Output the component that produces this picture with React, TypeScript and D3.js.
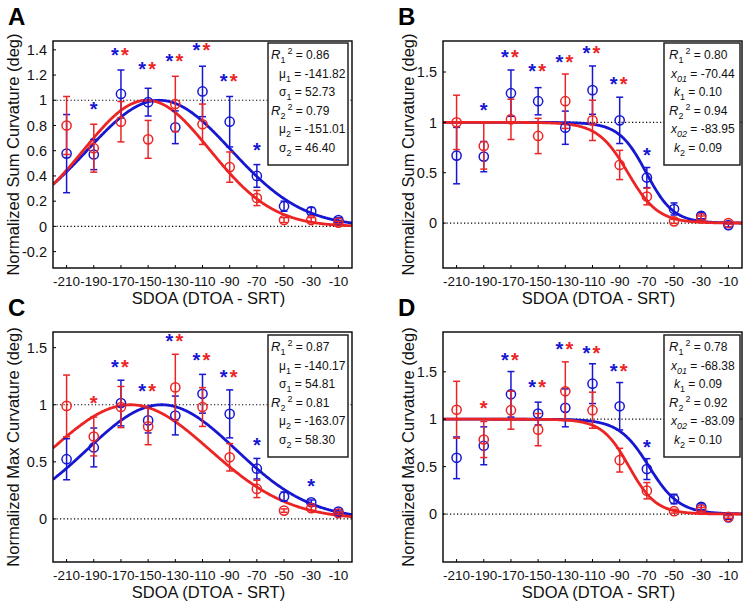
import React from "react";
import * as d3 from "d3";

// ---------- data ----------
const sdoa = [-210, -190, -170, -150, -130, -110, -90, -70, -50, -30, -10];

// Panel A: normalized sum curvature (Gaussian fits)
const sumBlueA = [0.577, 0.57, 1.05, 0.985, 0.786, 1.07, 0.83, 0.40, 0.16, 0.12, 0.05];
const sumBlueErrA = [0.31, 0.12, 0.19, 0.11, 0.13, 0.2, 0.2, 0.09, 0.04, 0.03, 0.02];
const sumRedA = [0.80, 0.62, 0.83, 0.69, 0.97, 0.81, 0.47, 0.225, 0.05, 0.05, 0.03];
const sumRedErrA = [0.23, 0.19, 0.16, 0.15, 0.22, 0.16, 0.12, 0.06, 0.02, 0.02, 0.01];

// Panel B: normalized sum curvature (sigmoid fits)
const sumBlueB = [0.67, 0.66, 1.29, 1.21, 0.947, 1.32, 1.02, 0.452, 0.14, 0.073, -0.02];
const sumBlueErrB = [0.28, 0.15, 0.23, 0.135, 0.165, 0.24, 0.23, 0.1, 0.06, 0.03, 0.02];
const sumRedB = [1.0, 0.766, 1.03, 0.865, 1.21, 1.02, 0.577, 0.264, 0.017, 0.05, 0.0];
const sumRedErrB = [0.27, 0.23, 0.2, 0.175, 0.27, 0.2, 0.145, 0.083, 0.02, 0.02, 0.01];

// Panel C: normalized max curvature (Gaussian fits)
const maxBlueC = [0.523, 0.626, 1.015, 0.863, 0.906, 1.096, 0.92, 0.44, 0.196, 0.146, 0.064];
const maxBlueErrC = [0.18, 0.17, 0.2, 0.11, 0.17, 0.17, 0.21, 0.09, 0.04, 0.02, 0.015];
const maxRedC = [0.99, 0.722, 0.98, 0.81, 1.152, 0.98, 0.54, 0.263, 0.073, 0.094, 0.05];
const maxRedErrC = [0.27, 0.17, 0.18, 0.16, 0.29, 0.17, 0.12, 0.076, 0.015, 0.02, 0.01];

// Panel D: normalized max curvature (sigmoid fits)
const maxBlueD = [0.593, 0.72, 1.263, 1.06, 1.12, 1.375, 1.137, 0.474, 0.158, 0.077, -0.035];
const maxBlueErrD = [0.22, 0.2, 0.24, 0.12, 0.2, 0.21, 0.25, 0.11, 0.05, 0.03, 0.02];
const maxRedD = [1.10, 0.786, 1.095, 0.89, 1.295, 1.095, 0.568, 0.246, 0.03, 0.05, -0.03];
const maxRedErrD = [0.3, 0.19, 0.2, 0.17, 0.31, 0.19, 0.125, 0.086, 0.02, 0.02, 0.015];

// Significance stars: x, y, which colours
const starXA = [-190, -170, -150, -130, -110, -90, -70];
const starYA = [0.965, 1.39, 1.28, 1.34, 1.43, 1.185, 0.64];
const starTA = ["b", "br", "br", "br", "br", "br", "b"];
const starXB = [-190, -170, -150, -130, -110, -90, -70];
const starYB = [1.16, 1.69, 1.55, 1.64, 1.73, 1.42, 0.72];
const starTB = ["b", "br", "br", "br", "br", "br", "b"];
const starXC = [-190, -170, -150, -130, -110, -90, -70, -30];
const starYC = [1.05, 1.365, 1.155, 1.59, 1.43, 1.28, 0.68, 0.327];
const starTC = ["r", "br", "br", "br", "br", "br", "b", "b"];
const starXD = [-190, -170, -150, -130, -110, -90, -70];
const starYD = [1.165, 1.67, 1.38, 1.78, 1.744, 1.55, 0.754];
const starTD = ["r", "br", "br", "br", "br", "br", "b"];

// Fit parameters
const gaussA = { blue: [-141.82, 52.73], red: [-151.01, 46.4] };
const gaussC = { blue: [-140.17, 54.81], red: [-163.07, 58.3] };
const sigB = { blue: [-70.44, 0.1], red: [-83.95, 0.09] };
const sigD = { blue: [-68.38, 0.09], red: [-83.09, 0.1] };

// Legend text
const legendA = [
  ["R", "1", "2", "0.86"], ["μ", "1", "", "-141.82"], ["σ", "1", "", "52.73"],
  ["R", "2", "2", "0.79"], ["μ", "2", "", "-151.01"], ["σ", "2", "", "46.40"],
];
const legendB = [
  ["R", "1", "2", "0.80"], ["x", "01", "", "-70.44"], ["k", "1", "", "0.10"],
  ["R", "2", "2", "0.94"], ["x", "02", "", "-83.95"], ["k", "2", "", "0.09"],
];
const legendC = [
  ["R", "1", "2", "0.87"], ["μ", "1", "", "-140.17"], ["σ", "1", "", "54.81"],
  ["R", "2", "2", "0.81"], ["μ", "2", "", "-163.07"], ["σ", "2", "", "58.30"],
];
const legendD = [
  ["R", "1", "2", "0.78"], ["x", "01", "", "-68.38"], ["k", "1", "", "0.09"],
  ["R", "2", "2", "0.92"], ["x", "02", "", "-83.09"], ["k", "2", "", "0.10"],
];

const xTicks = sdoa;
const yTicksA = [-0.2, 0, 0.2, 0.4, 0.6, 0.8, 1, 1.2, 1.4];
const yTicksB = [0, 0.5, 1, 1.5];

// ---------- styling ----------
const BLUE = "#1717d2";
const RED = "#ec2424";
const FONT = "'Liberation Sans', Arial, Helvetica, sans-serif";

type PanelCfg = {
  letter: string;
  left: number; right: number; top: number; bottom: number;
  yDomain: [number, number];
  yTicks: number[];
  ylabel: string;
  ylabelX: number;
  blue: number[]; blueErr: number[]; red: number[]; redErr: number[];
  starX: number[]; starY: number[]; starT: string[];
  fit: { blue: number[]; red: number[] };
  kind: "gauss" | "sig";
  legend: string[][];
  box: [number, number, number, number];
};

const panels: PanelCfg[] = [
  {
    letter: "A", left: 53, right: 352, top: 41, bottom: 268,
    yDomain: [-0.33, 1.47], yTicks: yTicksA, ylabel: "Normalized Sum Curvature (deg)", ylabelX: 19,
    blue: sumBlueA, blueErr: sumBlueErrA, red: sumRedA, redErr: sumRedErrA,
    starX: starXA, starY: starYA, starT: starTA, fit: gaussA, kind: "gauss", legend: legendA,
    box: [268, 43, 348, 165],
  },
  {
    letter: "B", left: 443, right: 742, top: 41, bottom: 268,
    yDomain: [-0.446, 1.808], yTicks: yTicksB, ylabel: "Normalized Sum Curvature (deg)", ylabelX: 414,
    blue: sumBlueB, blueErr: sumBlueErrB, red: sumRedB, redErr: sumRedErrB,
    starX: starXB, starY: starYB, starT: starTB, fit: sigB, kind: "sig", legend: legendB,
    box: [664, 43, 740, 165],
  },
  {
    letter: "C", left: 53, right: 352, top: 332, bottom: 562,
    yDomain: [-0.377, 1.637], yTicks: yTicksB, ylabel: "Normalized Max Curvature (deg)", ylabelX: 19,
    blue: maxBlueC, blueErr: maxBlueErrC, red: maxRedC, redErr: maxRedErrC,
    starX: starXC, starY: starYC, starT: starTC, fit: gaussC, kind: "gauss", legend: legendC,
    box: [268, 335, 348, 457],
  },
  {
    letter: "D", left: 443, right: 742, top: 332, bottom: 562,
    yDomain: [-0.506, 1.92], yTicks: yTicksB, ylabel: "Normalized Max Curvature (deg)", ylabelX: 414,
    blue: maxBlueD, blueErr: maxBlueErrD, red: maxRedD, redErr: maxRedErrD,
    starX: starXD, starY: starYD, starT: starTD, fit: sigD, kind: "sig", legend: legendD,
    box: [664, 335, 740, 457],
  },
];

const fmtTick = (v: number) => String(+v.toFixed(1));

function Panel({ c }: { c: PanelCfg }) {
  const x = d3.scaleLinear().domain([-220, 0]).range([c.left, c.right]);
  const y = d3.scaleLinear().domain(c.yDomain).range([c.bottom, c.top]);
  const xs = d3.range(-220, 0.5, 0.5);
  const f = (p: number[]) =>
    c.kind === "gauss"
      ? (t: number) => Math.exp(-((t - p[0]) ** 2) / (2 * p[1] * p[1]))
      : (t: number) => 1 / (1 + Math.exp(p[1] * (t - p[0])));
  const line = d3.line<number>().x((t) => x(t));
  const curve = (p: number[]) => {
    const g = f(p);
    return line.y((t) => y(g(t)))(xs) || "";
  };
  const clipId = "clip" + c.letter;
  const cap = 3.5;
  const series = (vals: number[], errs: number[], color: string) => (
    <g stroke={color} fill="none" strokeWidth={1.5}>
      {vals.map((v, i) => {
        const cx = x(sdoa[i]);
        const y1 = y(v + errs[i]);
        const y2 = y(v - errs[i]);
        return (
          <g key={i}>
            <line x1={cx} x2={cx} y1={y1} y2={y2} />
            <line x1={cx - cap} x2={cx + cap} y1={y1} y2={y1} />
            <line x1={cx - cap} x2={cx + cap} y1={y2} y2={y2} />
            <circle cx={cx} cy={y(v)} r={4.6} />
          </g>
        );
      })}
    </g>
  );
  const [bx0, by0, bx1, by1] = c.box;
  const isGauss = c.kind === "gauss";
  return (
    <g fontFamily={FONT}>
      <text x={c.left - 45} y={c.top - 16} fontSize={24} fontWeight="bold" fill="#000">
        {c.letter}
      </text>
      <defs>
        <clipPath id={clipId}>
          <rect x={c.left} y={c.top} width={c.right - c.left} height={c.bottom - c.top} />
        </clipPath>
      </defs>
      {/* reference lines */}
      {[0, 1].map((v) => (
        <line key={v} x1={c.left} x2={c.right} y1={y(v)} y2={y(v)} stroke="#000"
          strokeWidth={1.2} strokeDasharray="1.2 2.3" />
      ))}
      <g clipPath={`url(#${clipId})`}>
        <path d={curve(c.fit.blue)} stroke={BLUE} strokeWidth={2.8} fill="none" />
        <path d={curve(c.fit.red)} stroke={RED} strokeWidth={2.8} fill="none" />
      </g>
      {series(c.blue, c.blueErr, BLUE)}
      {series(c.red, c.redErr, RED)}
      {/* stars */}
      {c.starX.map((sx, i) => {
        const t = c.starT[i];
        const cx = x(sx);
        const cy = y(c.starY[i]) + 11;
        if (t === "br") {
          return (
            <g key={i} fontSize={20} fontWeight="bold" textAnchor="middle">
              <text x={cx - 6} y={cy} fill={BLUE}>*</text>
              <text x={cx + 4} y={cy} fill={RED}>*</text>
            </g>
          );
        }
        return (
          <text key={i} x={cx} y={cy} fontSize={20} fontWeight="bold" textAnchor="middle"
            fill={t === "b" ? BLUE : RED}>*</text>
        );
      })}
      {/* legend box */}
      <rect x={bx0} y={by0} width={bx1 - bx0} height={by1 - by0} fill="#fff" stroke="#222" strokeWidth={1.5} />
      {c.legend.map((l, i) => {
        const [sym, sub, sup, val] = l;
        const isR = sym === "R";
        const indent = isR ? (isGauss ? 3 : 5) : isGauss ? 11 : sym === "x" ? 7 : 10;
        const italic = sym === "R" || sym === "x" || sym === "k";
        const subItalic = sym === "x";
        return (
          <text key={i} x={bx0 + indent} y={by0 + 16 + i * 18.5} fontSize={12} fill="#111">
            <tspan fontStyle={italic ? "italic" : "normal"} fontSize={isR ? 13 : 12}>{sym}</tspan>
            <tspan fontSize={9} dy={4} fontStyle={subItalic ? "italic" : "normal"}>{sub}</tspan>
            {sup ? (
              <>
                <tspan fontSize={9} dx={2} dy={-9}>{sup}</tspan>
                <tspan dy={5}>{" = " + val}</tspan>
              </>
            ) : (
              <tspan dy={-4}>{" = " + val}</tspan>
            )}
          </text>
        );
      })}
      {/* frame */}
      <rect x={c.left} y={c.top} width={c.right - c.left} height={c.bottom - c.top}
        fill="none" stroke="#000" strokeWidth={1.4} />
      {/* y ticks */}
      {c.yTicks.map((v) => (
        <g key={v}>
          <line x1={c.left} x2={c.left + 3} y1={y(v)} y2={y(v)} stroke="#000" strokeWidth={1} />
          <text x={c.left - 6} y={y(v)} dy="0.36em" textAnchor="end" fontSize={14.5} fill="#111">
            {fmtTick(v)}
          </text>
        </g>
      ))}
      {/* x ticks */}
      {xTicks.map((v) => (
        <g key={v}>
          <line x1={x(v)} x2={x(v)} y1={c.bottom} y2={c.bottom - 3} stroke="#000" strokeWidth={1} />
          <text x={x(v)} y={c.bottom + 18} textAnchor="middle" fontSize={13.5} fill="#111">
            {fmtTick(v)}
          </text>
        </g>
      ))}
      <text x={(c.left + c.right) / 2 + 6} y={c.bottom + 36} textAnchor="middle" fontSize={16.5} fill="#111">
        SDOA (DTOA - SRT)
      </text>
      <text transform={`translate(${c.ylabelX},${(c.top + c.bottom) / 2}) rotate(-90)`}
        textAnchor="middle" fontSize={16.5} fill="#111">
        {c.ylabel}
      </text>
    </g>
  );
}

export default function App() {
  return (
    <svg width={744} height={602} style={{ position: "absolute", left: 0, top: 0, background: "#fff" }}>
      <rect width={744} height={602} fill="#fff" />
      {panels.map((c) => (
        <Panel key={c.letter} c={c} />
      ))}
    </svg>
  );
}
